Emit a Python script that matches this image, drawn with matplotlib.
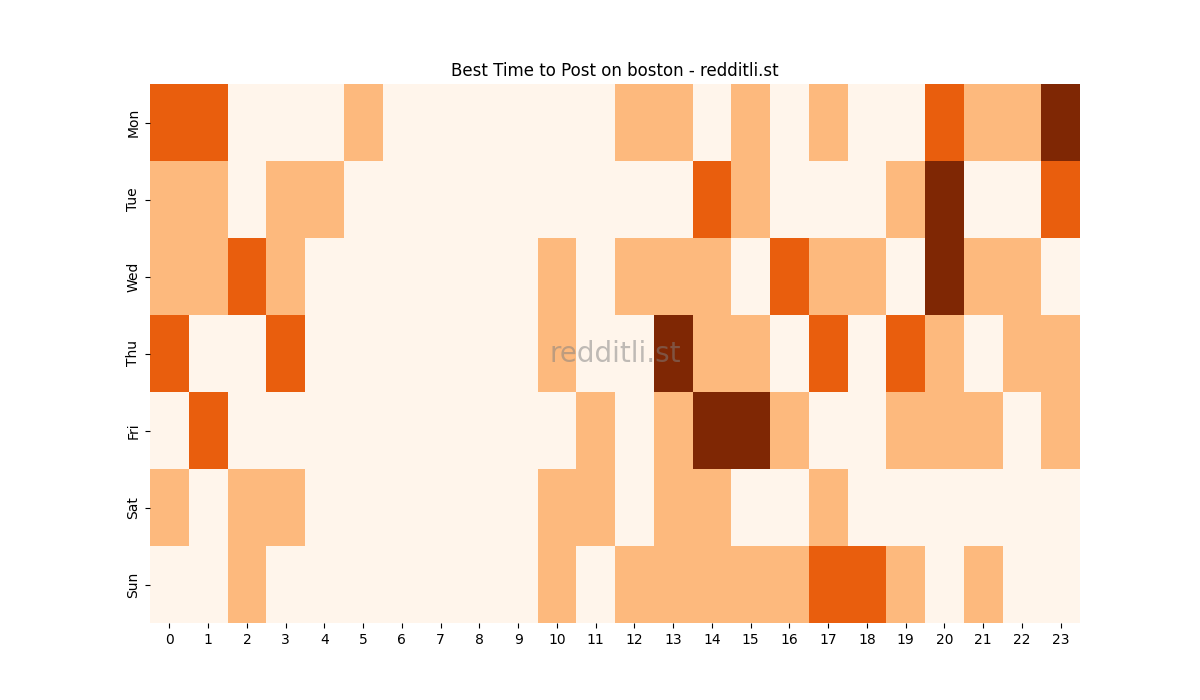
import numpy as np
import matplotlib
matplotlib.use('Agg')
import matplotlib.pyplot as plt
import seaborn as sns

days = ['Mon', 'Tue', 'Wed', 'Thu', 'Fri', 'Sat', 'Sun']
hours = list(range(24))

# activity level per day (rows) and hour (columns)
mon = [2, 2, 0, 0, 0, 1, 0, 0, 0, 0, 0, 0, 1, 1, 0, 1, 0, 1, 0, 0, 2, 1, 1, 3]
tue = [1, 1, 0, 1, 1, 0, 0, 0, 0, 0, 0, 0, 0, 0, 2, 1, 0, 0, 0, 1, 3, 0, 0, 2]
wed = [1, 1, 2, 1, 0, 0, 0, 0, 0, 0, 1, 0, 1, 1, 1, 0, 2, 1, 1, 0, 3, 1, 1, 0]
thu = [2, 0, 0, 2, 0, 0, 0, 0, 0, 0, 1, 0, 0, 3, 1, 1, 0, 2, 0, 2, 1, 0, 1, 1]
fri = [0, 2, 0, 0, 0, 0, 0, 0, 0, 0, 0, 1, 0, 1, 3, 3, 1, 0, 0, 1, 1, 1, 0, 1]
sat = [1, 0, 1, 1, 0, 0, 0, 0, 0, 0, 1, 1, 0, 1, 1, 0, 0, 1, 0, 0, 0, 0, 0, 0]
sun = [0, 0, 1, 0, 0, 0, 0, 0, 0, 0, 1, 0, 1, 1, 1, 1, 1, 2, 2, 1, 0, 1, 0, 0]

grid = np.array([mon, tue, wed, thu, fri, sat, sun])

fig, ax = plt.subplots(figsize=(12, 7), dpi=100)
sns.heatmap(grid, cmap='Oranges', cbar=False, ax=ax,
            xticklabels=hours, yticklabels=days)
ax.set_title('Best Time to Post on boston - redditli.st')
ax.text(0.5, 0.5, 'redditli.st', transform=ax.transAxes, fontsize=20,
        color='gray', alpha=0.5, ha='center', va='center')
plt.savefig('out.png')
